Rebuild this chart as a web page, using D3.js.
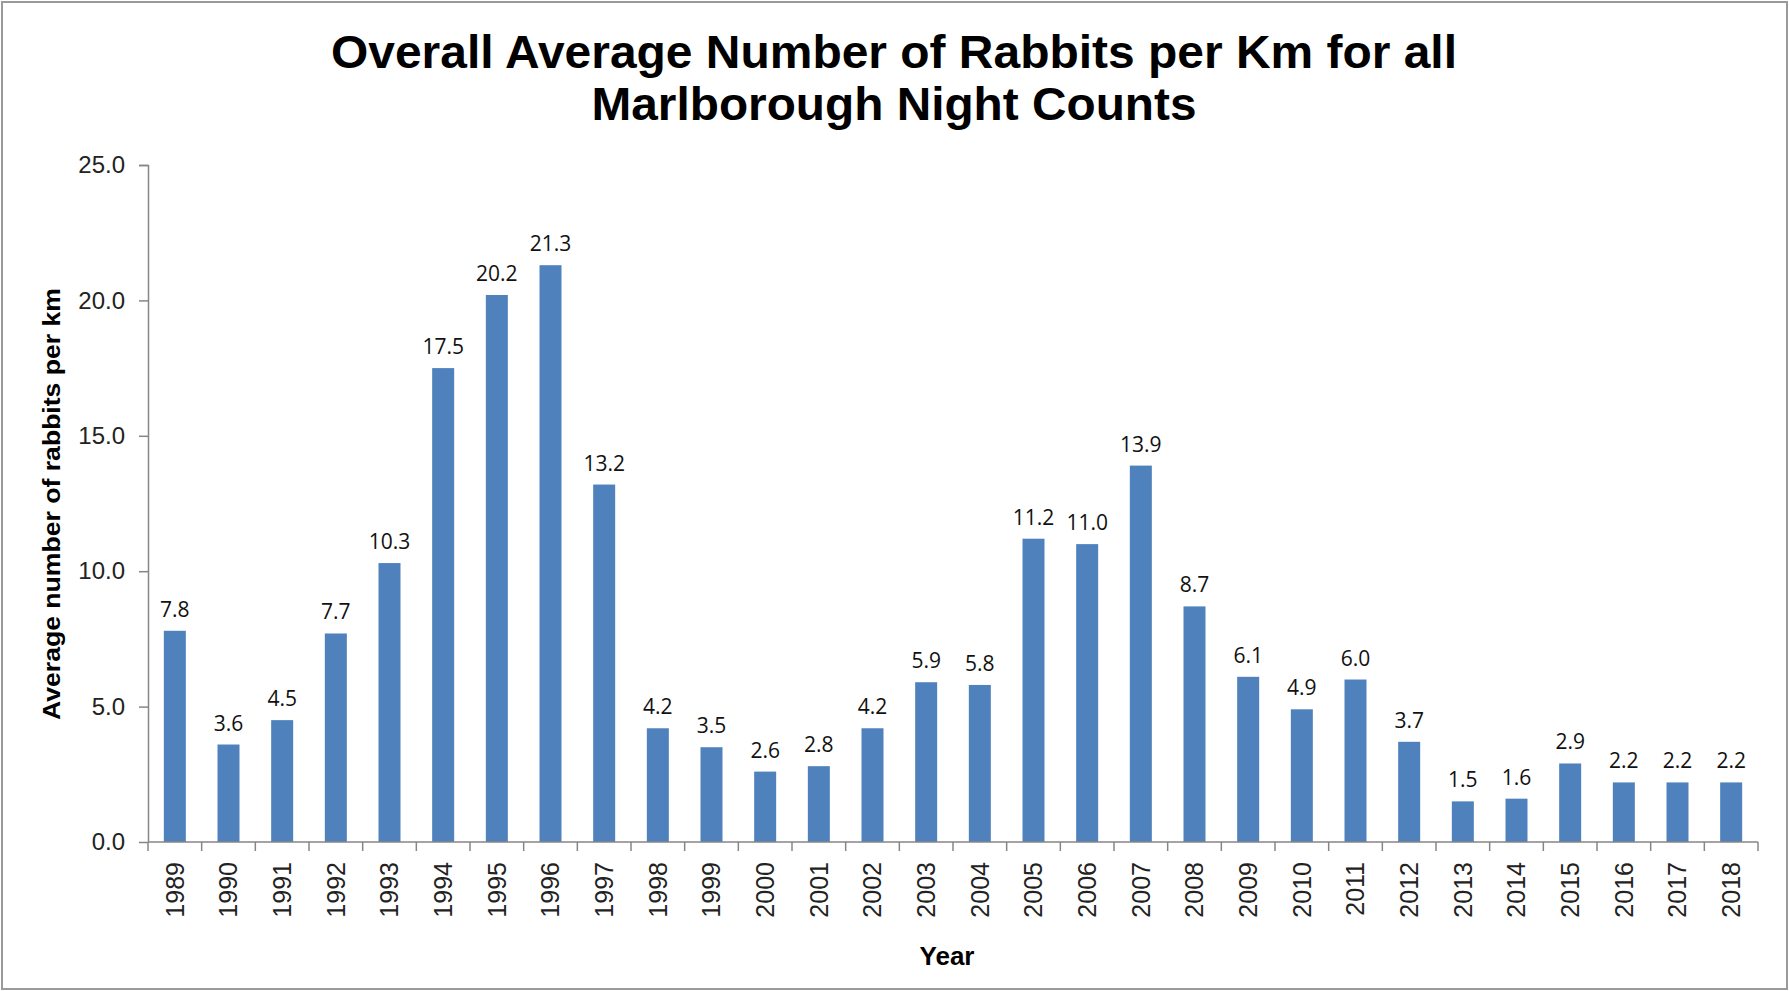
<!DOCTYPE html>
<html>
<head>
<meta charset="utf-8">
<script src="https://cdn.jsdelivr.net/npm/d3@7"></script>
<style>
  body { margin: 0; background: #fff; }
  svg { display: block; }
</style>
</head>
<body>
<div id="chart"></div>
<script>
// data
const years = ["1989","1990","1991","1992","1993","1994","1995","1996","1997","1998",
  "1999","2000","2001","2002","2003","2004","2005","2006","2007","2008",
  "2009","2010","2011","2012","2013","2014","2015","2016","2017","2018"];
const rabbits = [7.8, 3.6, 4.5, 7.7, 10.3, 17.5, 20.2, 21.3, 13.2, 4.2,
  3.5, 2.6, 2.8, 4.2, 5.9, 5.8, 11.2, 11.0, 13.9, 8.7,
  6.1, 4.9, 6.0, 3.7, 1.5, 1.6, 2.9, 2.2, 2.2, 2.2];
const yTicks = [0, 5, 10, 15, 20, 25];
const titleLines = ["Overall Average Number of Rabbits per Km for all", "Marlborough Night Counts"];

const W = 1789, H = 991;
const margin = { top: 165, right: 31, bottom: 149, left: 148 };
const innerW = W - margin.left - margin.right;
const innerH = H - margin.top - margin.bottom;
const axisColor = "#868686";

const svg = d3.select("#chart").append("svg")
  .attr("width", W).attr("height", H);

// outer frame
svg.append("rect")
  .attr("x", 2).attr("y", 2).attr("width", W - 4).attr("height", H - 4)
  .attr("fill", "#fff").attr("stroke", "#9a9a9a").attr("stroke-width", 2);

// title
svg.selectAll("text.title").data(titleLines).join("text")
  .attr("class", "title")
  .attr("x", 894).attr("y", (d, i) => 68 + i * 52)
  .attr("text-anchor", "middle")
  .attr("font-family", "Liberation Sans, Arial, sans-serif")
  .attr("font-weight", "bold").attr("font-size", "46px")
  .attr("fill", "#000")
  .attr("textLength", (d, i) => i === 0 ? 1126 : 605)
  .attr("lengthAdjust", "spacingAndGlyphs")
  .text(d => d);

const g = svg.append("g").attr("transform", `translate(${margin.left},${margin.top})`);

const x = d3.scaleBand().domain(years).range([0, innerW]).paddingInner(0.59).paddingOuter(0.295);
const y = d3.scaleLinear().domain([0, 25]).range([innerH, 0]);

// bars
g.selectAll("rect.bar").data(rabbits).join("rect")
  .attr("class", "bar")
  .attr("x", (d, i) => x(years[i]))
  .attr("y", d => y(d))
  .attr("width", x.bandwidth())
  .attr("height", d => innerH - y(d))
  .attr("fill", "#4F81BD");

// value labels
g.selectAll("text.val").data(rabbits).join("text")
  .attr("class", "val")
  .attr("x", (d, i) => x(years[i]) + x.bandwidth() / 2)
  .attr("y", d => y(d) - 14)
  .attr("text-anchor", "middle")
  .attr("font-family", "Open Sans, sans-serif")
  .attr("font-size", "21px").attr("fill", "#111")
  .text(d => d.toFixed(1));

// y axis
const yAxis = g.append("g")
  .call(d3.axisLeft(y).tickValues(yTicks).tickFormat(d3.format(".1f")).tickSize(9).tickPadding(14));
yAxis.select(".domain").attr("stroke", axisColor).attr("stroke-width", 1.5)
  .attr("d", `M-9,0.5H0.5V${innerH}`);
yAxis.selectAll(".tick line").attr("stroke", axisColor).attr("stroke-width", 1.5);
yAxis.selectAll(".tick text")
  .attr("font-family", "Liberation Sans, Arial, sans-serif")
  .attr("font-size", "24px").attr("fill", "#222");

// x axis: baseline + ticks between categories
const xAxis = g.append("g").attr("transform", `translate(0,${innerH})`);
xAxis.append("line")
  .attr("x1", 0).attr("x2", innerW)
  .attr("stroke", axisColor).attr("stroke-width", 1.5);
const step = x.step();
xAxis.selectAll("line.tk").data(d3.range(years.length + 1)).join("line")
  .attr("class", "tk")
  .attr("x1", i => i === years.length ? innerW : x(years[i]) - step * 0.295)
  .attr("x2", i => i === years.length ? innerW : x(years[i]) - step * 0.295)
  .attr("y1", 0).attr("y2", 9)
  .attr("stroke", axisColor).attr("stroke-width", 1.5);
xAxis.selectAll("text.yr").data(years).join("text")
  .attr("class", "yr")
  .attr("transform", d => `translate(${x(d) + x.bandwidth() / 2},20) rotate(-90)`)
  .attr("text-anchor", "end").attr("dy", "0.35em")
  .attr("font-family", "Liberation Sans, Arial, sans-serif")
  .attr("font-size", "25px").attr("fill", "#222")
  .text(d => d);

// axis titles
svg.append("text")
  .attr("transform", "translate(52,504) rotate(-90)")
  .attr("text-anchor", "middle").attr("dy", "0.35em")
  .attr("font-family", "Liberation Sans, Arial, sans-serif")
  .attr("font-weight", "bold").attr("font-size", "23px")
  .attr("textLength", 432).attr("lengthAdjust", "spacingAndGlyphs")
  .text("Average number of rabbits per km");

svg.append("text")
  .attr("x", 947).attr("y", 965)
  .attr("text-anchor", "middle")
  .attr("font-family", "Liberation Sans, Arial, sans-serif")
  .attr("font-weight", "bold").attr("font-size", "26px")
  .text("Year");
</script>
</body>
</html>
